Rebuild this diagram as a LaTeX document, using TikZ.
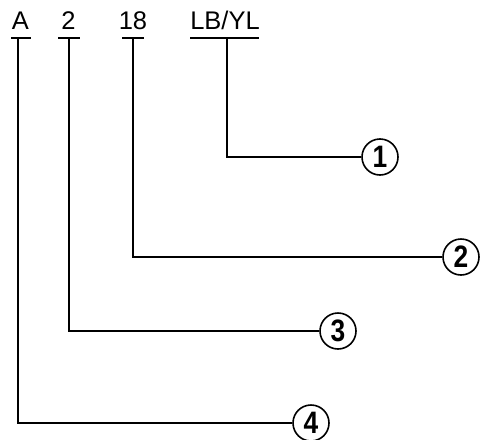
\documentclass[tikz,border=0pt]{standalone}
\usepackage{fontspec}
\setmainfont{Liberation Sans}
\usetikzlibrary{positioning}

\newcommand{\narrow}[1]{\scalebox{0.85}[1]{#1}}

\tikzset{
  code/.style={font=\fontsize{25.5}{25.5}\selectfont, inner sep=0pt, anchor=base},
  callout/.style={circle, draw, line width=1.6pt, minimum size=36pt, inner sep=0pt,
    font=\bfseries\fontsize{31}{31}\selectfont},
  lead/.style={line width=1.6pt}
}

\begin{document}
\begin{tikzpicture}[x=1pt, y=-1pt]
  \useasboundingbox (0,0) rectangle (481,439);
  % Code labels
  \node[code] (part) at (20.5,29) {A};
  \node[code] (size) at (68.5,29) {2};
  \node[code] (gauge) at (133,29) {18};
  \node[code] (colour) at (225,29) {LB/YL};
  % Underlines
  \draw[lead] (11,38) -- (31,38);
  \draw[lead] (58,38) -- (80,38);
  \draw[lead] (122,38) -- (144,38);
  \draw[lead] (190,38) -- (259,38);
  \coordinate (partbar) at (18,38);
  \coordinate (sizebar) at (69,38);
  \coordinate (gaugebar) at (133,38);
  \coordinate (colourbar) at (227,38);
  % Callouts
  \node[callout] (c1) at (380,157) {\narrow{1}};
  \node[callout] (c2) at (461,257) {\narrow{2}};
  \node[callout] (c3) at (338,331) {\narrow{3}};
  \node[callout] (c4) at (311,423) {\narrow{4}};
  % Leaders
  \draw[lead] (colourbar) |- (c1);
  \draw[lead] (gaugebar) |- (c2);
  \draw[lead] (sizebar) |- (c3);
  \draw[lead] (partbar) |- (c4);
\end{tikzpicture}
\end{document}
